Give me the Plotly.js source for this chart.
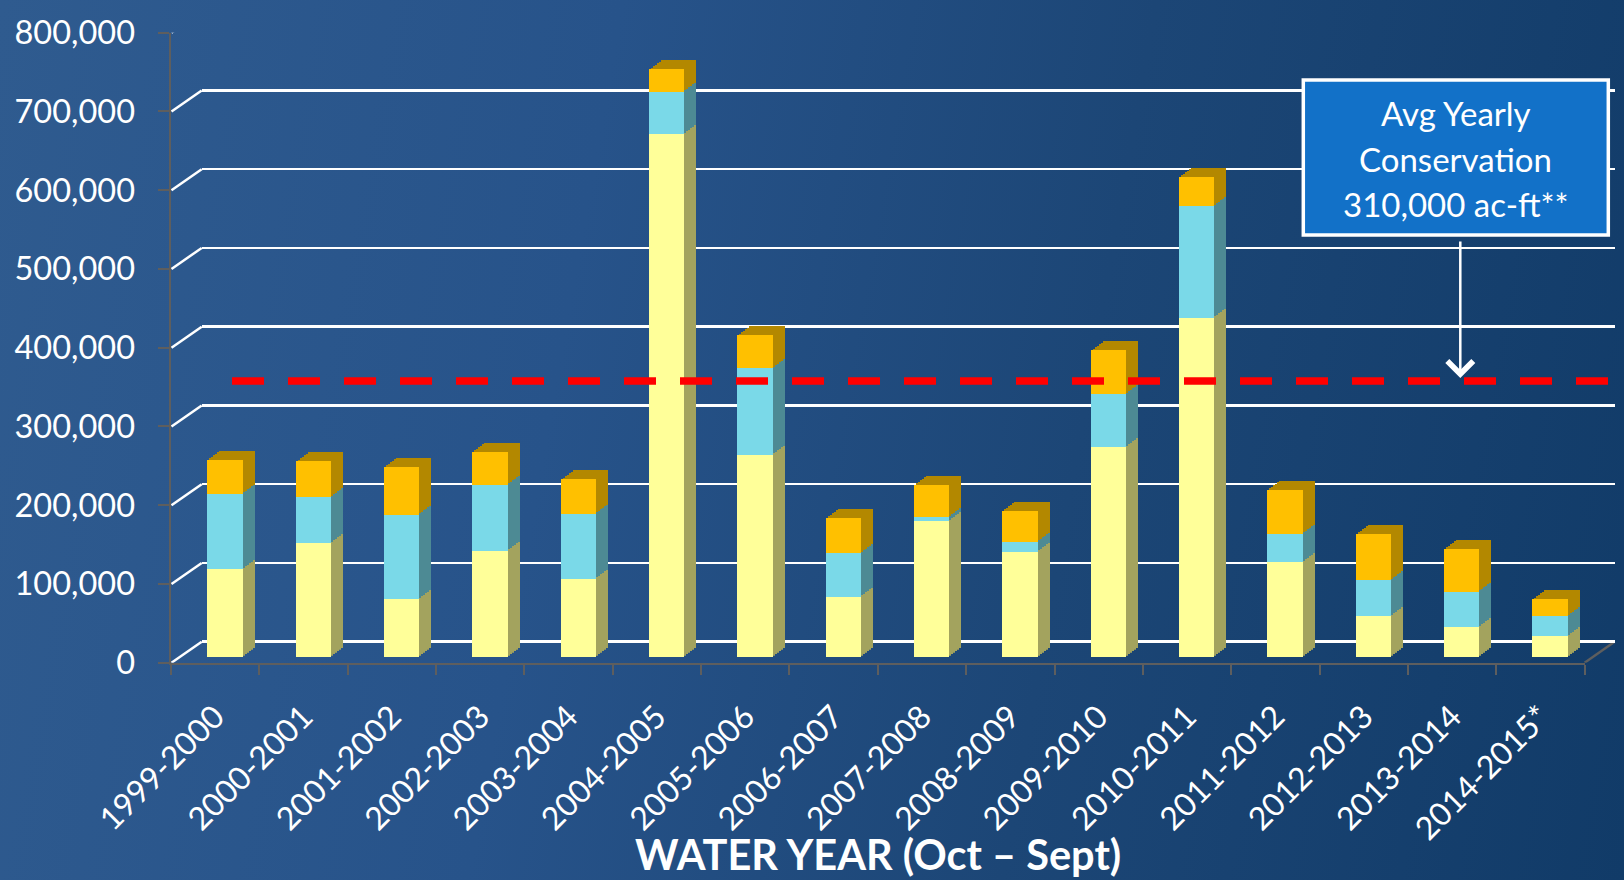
<!DOCTYPE html>
<html>
<head>
<meta charset="utf-8">
<script src="https://cdn.plot.ly/plotly-3.0.1.min.js"></script>
<style>
  html, body { margin: 0; padding: 0; }
  body {
    width: 1624px; height: 880px; overflow: hidden;
    background: linear-gradient(100deg, #2F5B8F 0%, #27538A 35%, #1C4676 65%, #113B68 100%);
  }
  #chart { width: 1624px; height: 880px; }
</style>
</head>
<body>
<div id="chart"></div>
<script>
// ---- data (acre-feet) ----
const waterYears = ['1999-2000','2000-2001','2001-2002','2002-2003','2003-2004','2004-2005',
  '2005-2006','2006-2007','2007-2008','2008-2009','2009-2010','2010-2011','2011-2012',
  '2012-2013','2013-2014','2014-2015*'];
const baseSeries = [112000,145000,74000,135000,100000,664000,257000,77000,173000,134000,267000,431000,121000,52000,38000,27000];
const midSeries  = [96000,58000,107000,84000,82000,54000,110000,55000,5000,13000,67000,142000,36000,46000,45000,25000];
const topSeries  = [43000,46000,61000,42000,44000,29000,42000,45000,41000,39000,56000,37000,56000,59000,55000,22000];
const avgLineLevel = 351000;
const avgBoxLines = ['Avg Yearly', 'Conservation', '310,000 ac-ft**'];
const xAxisTitle = 'WATER YEAR (Oct \u2013 Sept)';
const yTickValues = [0,100000,200000,300000,400000,500000,600000,700000,800000];

// ---- styling ----
const W = 1624, H = 880;
const px = v => v / W;            // pixel x -> paper
const py = v => (H - v) / H;      // pixel y -> paper
const FONT = 'Lato, "Open Sans", "DejaVu Sans", sans-serif';
const frontCols = ['#FFFF99', '#7AD9E8', '#FFC000'];
const sideCols  = ['#A3A35E', '#4D8A94', '#B38800'];
const GRID = '#FFFFFF', AXIS = '#5E5E5E';
const series = [baseSeries, midSeries, topSeries];

const barWidth = 0.4;
const DEPTH_X = 12, DEPTH_Y = 9, LAYERS = 6;
const frontX0 = 180.85, frontX1 = 1594.15, frontYb = 657.3, frontYt = 27.3;

const traces = [];
const layout = {
  width: W, height: H,
  margin: {l:0, r:0, t:0, b:0, pad:0},
  paper_bgcolor: 'rgba(0,0,0,0)', plot_bgcolor: 'rgba(0,0,0,0)',
  barmode: 'stack',
  font: {family: FONT, color: '#FFFFFF'},
  showlegend: false,
  xaxis: {domain:[px(201.7), px(1614.6)], type:'category', range:[-0.5,15.5], visible:false, fixedrange:true},
  yaxis: {domain:[py(641.7), py(11.7)], range:[0,800000], anchor:'x', dtick:100000, showgrid:true,
    gridcolor: GRID, gridwidth: 2.5, zeroline:true, zerolinecolor: GRID, zerolinewidth: 2.5,
    showticklabels:false, showline:false, ticks:'', fixedrange:true},
  xaxis2: {domain:[px(171), px(1584.6)], type:'category', range:[-0.5,15.5], anchor:'y2',
    showline:true, linecolor: AXIS, linewidth: 2.5, showgrid:false, zeroline:false,
    ticks:'outside', tickson:'boundaries', ticklen: 10, tickwidth: 2, tickcolor: AXIS,
    tickangle: -45, ticklabelstandoff: 20, tickfont:{family: FONT, size: 32, color:'#FFFFFF'}, fixedrange:true},
  yaxis2: {domain:[py(662.7), py(32.7)], range:[0,800000], anchor:'x2', tickvals: yTickValues, tickformat:',d',
    showline:true, linecolor: AXIS, linewidth: 2.5, showgrid:false, zeroline:false,
    ticks:'outside', ticklen: 11, tickwidth: 2, tickcolor: AXIS, ticklabelstandoff: 16,
    tickfont:{family: FONT, size: 32.5, color:'#FFFFFF'}, fixedrange:true}
};

// back wall (gridlines only) and front axis carriers
traces.push({type:'scatter', x: waterYears, y: baseSeries, xaxis:'x', yaxis:'y', mode:'markers',
  marker:{opacity:0}, hoverinfo:'skip', showlegend:false});
traces.push({type:'scatter', x: waterYears, y: baseSeries, xaxis:'x2', yaxis:'y2', mode:'markers',
  marker:{opacity:0}, hoverinfo:'skip', showlegend:false});

// extrusion layers (farthest first), then the front faces
for (let k = LAYERS; k >= 0; k--) {
  const axNum = 3 + (LAYERS - k);
  const dx = DEPTH_X * k / LAYERS, dy = DEPTH_Y * k / LAYERS;
  const cols = k === 0 ? frontCols : sideCols;
  layout['xaxis' + axNum] = {domain:[px(frontX0 + dx), px(frontX1 + dx)], type:'category', range:[-0.5,15.5],
    visible:false, fixedrange:true, anchor:'y' + axNum};
  layout['yaxis' + axNum] = {domain:[py(frontYb - dy), py(frontYt - dy)], range:[0,800000],
    visible:false, fixedrange:true, anchor:'x' + axNum};
  series.forEach((s, i) => traces.push({
    type:'bar', x: waterYears, y: s, xaxis:'x' + axNum, yaxis:'y' + axNum, width: barWidth,
    marker:{color: cols[i], line:{width:0}}, hoverinfo: k === 0 ? 'x+y' : 'skip', showlegend:false}));
}
const frontAxis = 'y' + (3 + LAYERS);

const shapes = [];
// diagonal connectors between front axis and back wall
yTickValues.forEach(v => shapes.push({type:'line', xref:'paper', yref:'y2', ysizemode:'pixel', yanchor: v,
  x0: px(171.5), x1: px(201.7), y0: 0, y1: 21, line:{color: GRID, width: 2.5}, layer:'below'}));
// right floor edge
shapes.push({type:'line', xref:'paper', yref:'y2', ysizemode:'pixel', yanchor: 0,
  x0: px(1584.6), x1: px(1614.6), y0: 0, y1: 21, line:{color: AXIS, width: 2.5}, layer:'below'});
// average dashed line
shapes.push({type:'line', xref:'paper', yref: frontAxis, x0: px(232), x1: px(1608), y0: avgLineLevel, y1: avgLineLevel,
  line:{color:'#FF0000', width: 7.5, dash:'32px,24px'}, layer:'above'});
// callout box
shapes.push({type:'rect', xref:'paper', yref:'paper', x0: px(1303.3), x1: px(1608.3), y0: py(235), y1: py(80),
  fillcolor:'#1271C8', line:{color:'#FFFFFF', width:3.5}, layer:'above'});

const annotations = [];
const boxBase = [124, 170, 215];
avgBoxLines.forEach((t, i) => annotations.push({text: t, xref:'paper', yref:'paper', x: px(1455.8), y: py(boxBase[i] - 11),
  xanchor:'center', yanchor:'middle', showarrow:false, font:{family: FONT, size: 33, color:'#FFFFFF'}}));
annotations.push({text:'', xref:'paper', yref:'paper', x: px(1460.3), y: py(378), ax: 0, ay: -138,
  showarrow:true, arrowhead:4, arrowsize:2, arrowwidth:2.5, arrowcolor:'#FFFFFF', standoff:0});
annotations.push({text: '<b>' + xAxisTitle + '</b>', xref:'paper', yref:'paper', x: px(878), y: py(827),
  xanchor:'center', yanchor:'top', showarrow:false, font:{family: FONT, size: 41.5, color:'#FFFFFF'}});

layout.shapes = shapes;
layout.annotations = annotations;

Plotly.newPlot('chart', traces, layout, {displayModeBar:false, staticPlot:true});
</script>
</body>
</html>
